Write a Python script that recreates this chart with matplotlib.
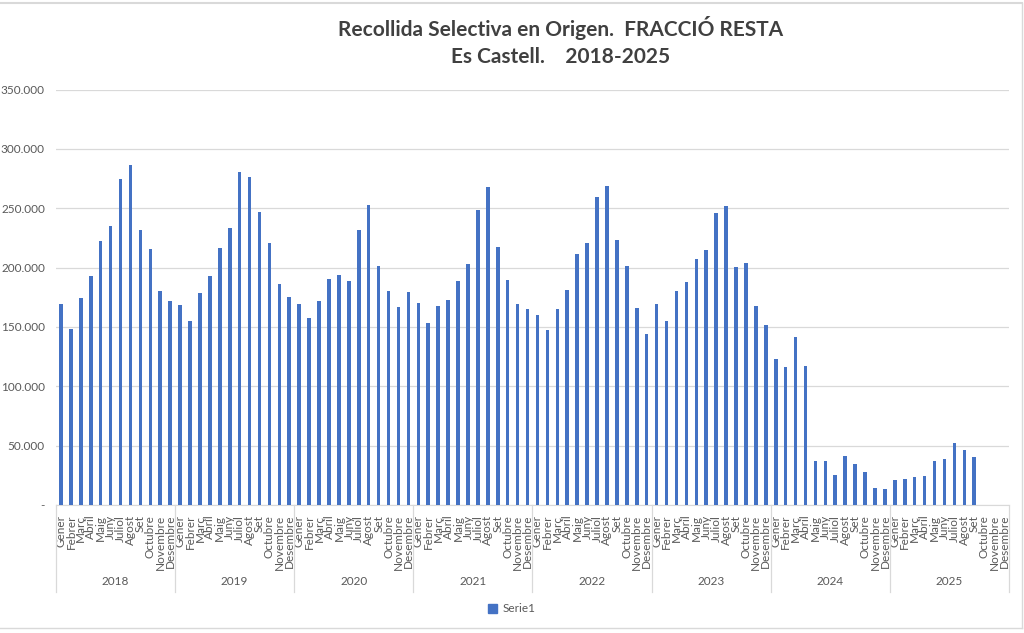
import numpy as np
import matplotlib
matplotlib.use("Agg")
import matplotlib.pyplot as plt
import matplotlib.transforms as mtransforms
from matplotlib.lines import Line2D
from matplotlib.patches import Patch
from matplotlib.ticker import FuncFormatter

# ---------------------------------------------------------------
# Data (kg per month)
# ---------------------------------------------------------------
months = ["Gener", "Febrer", "Març", "Abril", "Maig", "Juny", "Juliol",
          "Agost", "Set", "Octubre", "Novembre", "Desembre"]
years = ["2018", "2019", "2020", "2021", "2022", "2023", "2024", "2025"]

v2018 = [169600, 148600, 174700, 193200, 222300, 234900, 274200, 286800, 231600, 215600, 180500, 172100]
v2019 = [168800, 154800, 178300, 193200, 216400, 233200, 280900, 275900, 246400, 220600, 186400, 175500]
v2020 = [169600, 157800, 171600, 190600, 194000, 189000, 231600, 252600, 201600, 180500, 167100, 179700]
v2021 = [170500, 153600, 167900, 173000, 189000, 203300, 248400, 267500, 217600, 189800, 169600, 165400]
v2022 = [159800, 147200, 165400, 181400, 211700, 220900, 259300, 268300, 223200, 201600, 166200, 144400]
v2023 = [169600, 154800, 180500, 188100, 207200, 214700, 245900, 251500, 200400, 203800, 167900, 151900]
v2024 = [123100, 116300, 141300, 117200, 37000, 37000, 25000, 40900, 34200, 27500, 14000, 13200]
v2025 = [20700, 21900, 23300, 24100, 37000, 38400, 51900, 46300, 40100, None, None, None]

series = [v2018, v2019, v2020, v2021, v2022, v2023, v2024, v2025]
values = np.array([np.nan if v is None else v for yr in series for v in yr], dtype=float)
labels = months * len(years)

# ---------------------------------------------------------------
# Chart
# ---------------------------------------------------------------
plt.rcParams["font.family"] = ["Lato", "DejaVu Sans"]
txt = "#595959"
grid = "#d9d9d9"
blue = "#4472C4"

W, H = 1024, 633
fig = plt.figure(figsize=(W / 100, H / 100), dpi=100)
ax = fig.add_axes([56 / W, 1 - 505 / H, 953 / W, 415.5 / H])

x = np.arange(len(values))
ax.bar(x, values, width=0.36, color=blue, zorder=3)

ax.set_xlim(-0.5, len(values) - 0.5)
ax.set_ylim(0, 350000)
ax.set_yticks(np.arange(0, 350001, 50000))
ax.yaxis.set_major_formatter(FuncFormatter(
    lambda v, p: "-" if v == 0 else f"{int(v):,}".replace(",", ".")))
ax.tick_params(axis="y", length=0, pad=8, labelsize=8.5, labelcolor=txt)
ax.grid(axis="y", color=grid, linewidth=0.9, zorder=0)

ax.set_xticks(x)
ax.set_xticklabels(labels, rotation=90, fontsize=8.5, color=txt)
ax.tick_params(axis="x", length=0, pad=7)

for s in ["left", "right", "top"]:
    ax.spines[s].set_visible(False)
ax.spines["bottom"].set_color(grid)

# year groups under the month labels
trans = mtransforms.blended_transform_factory(ax.transData, ax.transAxes)
for i in range(len(years) + 1):
    ax.add_line(Line2D([i * 12 - 0.5, i * 12 - 0.5], [0, -0.209], transform=trans,
                       color=grid, linewidth=0.9, clip_on=False))
for i, yr in enumerate(years):
    ax.text(i * 12 + 5.5, -0.183, yr, transform=trans, ha="center", va="center",
            fontsize=8.5, color=txt)

# title
fig.text(0.547, 1 - 28 / H, "Recollida Selectiva en Origen.  FRACCIÓ RESTA",
         ha="center", va="center", fontsize=15, fontweight="bold", color="#404040")
fig.text(0.547, 1 - 57 / H, "Es Castell.    2018-2025",
         ha="center", va="center", fontsize=15, fontweight="bold", color="#404040")

# legend
fig.legend(handles=[Patch(color=blue, label="Serie1")], loc="center",
           bbox_to_anchor=(0.5, 1 - 609 / H), frameon=False, fontsize=8.5,
           labelcolor=txt, handlelength=0.7, handleheight=0.7, handletextpad=0.5)

# outer chart frame
fig.add_artist(Line2D([0, 1022 / W], [1 - 2.5 / H, 1 - 2.5 / H], color=grid, linewidth=1.5))
fig.add_artist(Line2D([1022 / W, 1022 / W], [1 - 2.5 / H, 1 - 628 / H], color=grid, linewidth=1))
fig.add_artist(Line2D([0, 1022 / W], [1 - 628 / H, 1 - 628 / H], color=grid, linewidth=1))

fig.savefig("out.png", dpi=100)
